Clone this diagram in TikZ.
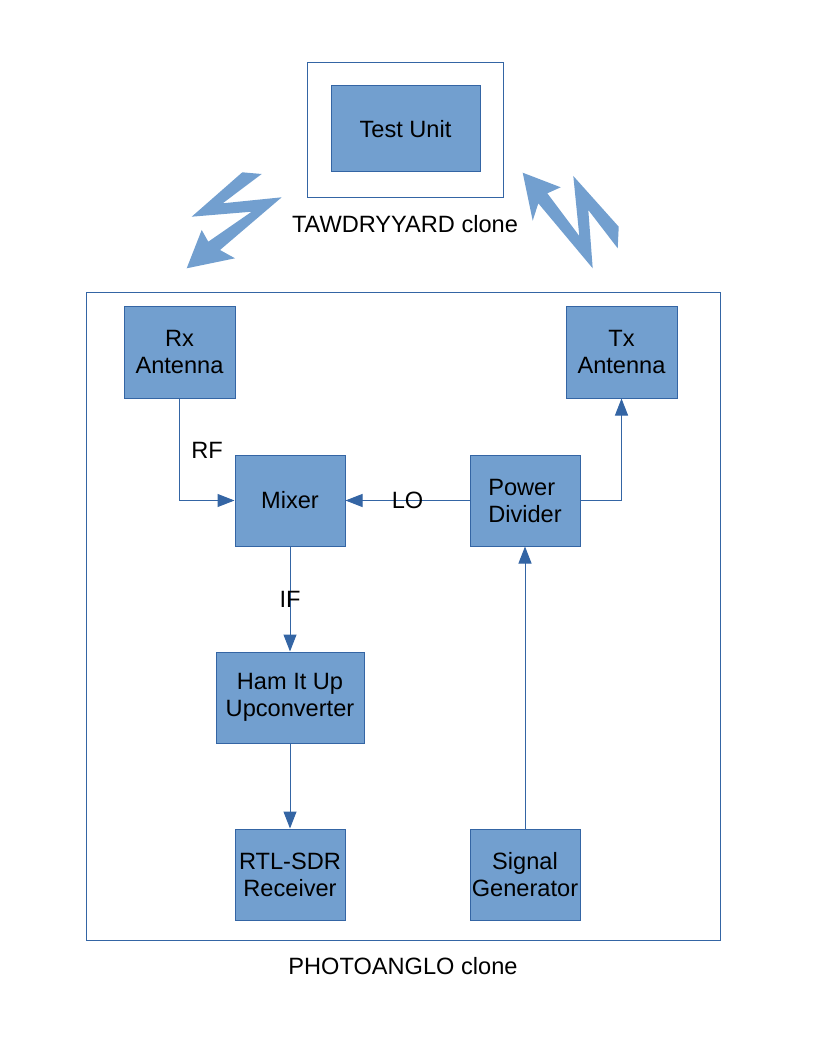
\documentclass[tikz,border=0pt]{standalone}
\usepackage{fontspec}
\setmainfont{Liberation Sans}
\usetikzlibrary{arrows.meta}
\definecolor{boxfill}{HTML}{729FCF}
\definecolor{boxline}{HTML}{3465A4}
\tikzstyle{block} = [rectangle, draw=boxline, fill=boxfill, line width=1pt, align=center, inner sep=0pt, minimum width=110pt, minimum height=91pt]
\tikzstyle{frame} = [draw=boxline, line width=0.9pt]
\tikzstyle{arrow} = [draw=boxline, line width=1pt, -{Triangle[length=17pt,width=13pt]}]
\tikzstyle{bolt} = [fill=boxfill]

\begin{document}
\begin{tikzpicture}[x=1pt, y=-1pt, font=\fontsize{23.6}{27}\selectfont]
                \useasboundingbox (0,0) rectangle (816,1056);

                % Frames of the two clones
                \draw[frame] (307,62) rectangle (503,197);
                \draw[frame] (86,292) rectangle (720,940);
                \node (tawdry) at (405,224) {TAWDRYYARD clone};
                \node (photo) at (403,966) {PHOTOANGLO clone};

                % Blocks
                \node[block, minimum width=149pt, minimum height=86pt] (test) at (405.5,129) {Test Unit};
                \node[block, minimum width=111pt, minimum height=92pt] (rx) at (179.5,352) {Rx\\Antenna};
                \node[block, minimum width=111pt, minimum height=92pt] (tx) at (621.5,352) {Tx\\Antenna};
                \node[block] (mixer) at (290,500.5) {Mixer};
                \node[block, align=left] (divider) at (525,500.5) {Power\\Divider};
                \node[block, minimum width=148pt] (ham) at (290,697.5) {Ham It Up\\Upconverter};
                \node[block] (rtl) at (290,874.5) {RTL-SDR\\Receiver};
                \node[block] (siggen) at (525,874.5) {Signal\\Generator};

                % Radio links
                \fill[bolt] (242.3,172.3) -- (261.7,174) -- (222.7,203.3) -- (281.7,197.3) -- (220,250) -- (235,258.3)
                    -- (186.7,268.3) -- (201.7,230) -- (208.3,241.7) -- (251.7,211.7) -- (191.7,216.7) -- cycle;
                \fill[bolt] (522.7,172.7) -- (560.7,187.3) -- (547.3,193.3) -- (579.3,236) -- (573.3,176) -- (618.7,226.7)
                    -- (617.7,248.3) -- (588.3,210) -- (592.7,268.3) -- (538.3,203.3) -- (532.7,220.7) -- cycle;

                % Signal path
                \node (rf) at (207,450) {RF};
                \draw[arrow] (rx.south) |- (mixer.west);
                \draw[arrow] (divider.west) -- node (lo) {LO} (mixer.east);
                \draw[arrow] (divider.east) -| (tx.south);
                \draw[arrow] (mixer.south) -- node (iflabel) {IF} (ham.north);
                \draw[arrow] (ham.south) -- (rtl.north);
                \draw[arrow] (siggen.north) -- (divider.south);
            \end{tikzpicture}
\end{document}
